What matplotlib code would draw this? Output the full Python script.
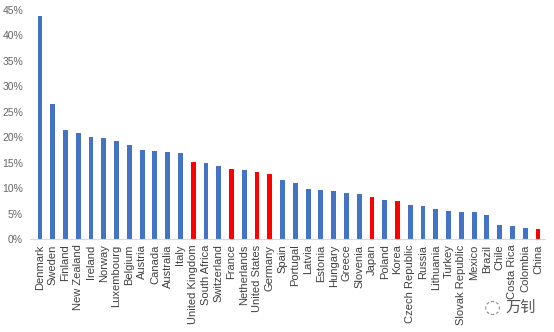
import numpy as np
import matplotlib.pyplot as plt
from matplotlib.ticker import PercentFormatter

# share by country, in percent
countries = ['Denmark', 'Sweden', 'Finland', 'New Zealand', 'Ireland', 'Norway',
             'Luxembourg', 'Belgium', 'Austria', 'Canada', 'Australia', 'Italy',
             'United Kingdom', 'South Africa', 'Switzerland', 'France', 'Netherlands',
             'United States', 'Germany', 'Spain', 'Portugal', 'Latvia', 'Estonia',
             'Hungary', 'Greece', 'Slovenia', 'Japan', 'Poland', 'Korea',
             'Czech Republic', 'Russia', 'Lithuania', 'Turkey', 'Slovak Republic',
             'Mexico', 'Brazil', 'Chile', 'Costa Rica', 'Colombia', 'China']
values = [43.8, 26.6, 21.5, 20.8, 20.0, 19.8,
          19.3, 18.5, 17.5, 17.2, 17.1, 16.9,
          15.1, 15.0, 14.3, 13.8, 13.6,
          13.2, 12.8, 11.5, 11.1, 9.9, 9.7,
          9.4, 9.0, 8.8, 8.2, 7.6, 7.4,
          6.6, 6.5, 5.9, 5.6, 5.4,
          5.3, 4.7, 2.8, 2.5, 2.1, 2.0]
highlight = ['United Kingdom', 'France', 'United States', 'Germany', 'Japan', 'Korea', 'China']

plt.rcParams['font.family'] = ['Liberation Sans', 'Noto Sans CJK SC', 'DejaVu Sans']

fig = plt.figure(figsize=(5.54, 3.32), dpi=100)
ax = fig.add_axes([30/554, 1 - 239/332, 515/554, 229/332])

x = np.arange(len(countries))
colors = ['#FF0000' if c in highlight else '#4472C4' for c in countries]
ax.bar(x, values, width=0.38, color=colors)

ax.set_xlim(-0.78, 39.55)
ax.set_ylim(0, 45)
ax.set_yticks(np.arange(0, 46, 5))
ax.yaxis.set_major_formatter(PercentFormatter(decimals=0))
ax.set_xticks(x)
ax.set_xticklabels(countries, rotation=90, fontsize=8, color='#404040')
ax.tick_params(axis='y', length=0, labelsize=7.5, labelcolor='#666666', pad=5)
ax.tick_params(axis='x', length=0, pad=4)

for side in ['top', 'right', 'left']:
    ax.spines[side].set_visible(False)
ax.spines['bottom'].set_color('#D9D9D9')

# watermark
fig.text(0.968, 0.075, '万钊', fontsize=11, color='#555555', ha='right', va='center',
         family=['Noto Sans CJK SC'])
fig.text(0.888, 0.075, '◌', fontsize=14, color='#888888', ha='center', va='center',
         family=['DejaVu Sans'])

fig.savefig('out.png', dpi=100)
